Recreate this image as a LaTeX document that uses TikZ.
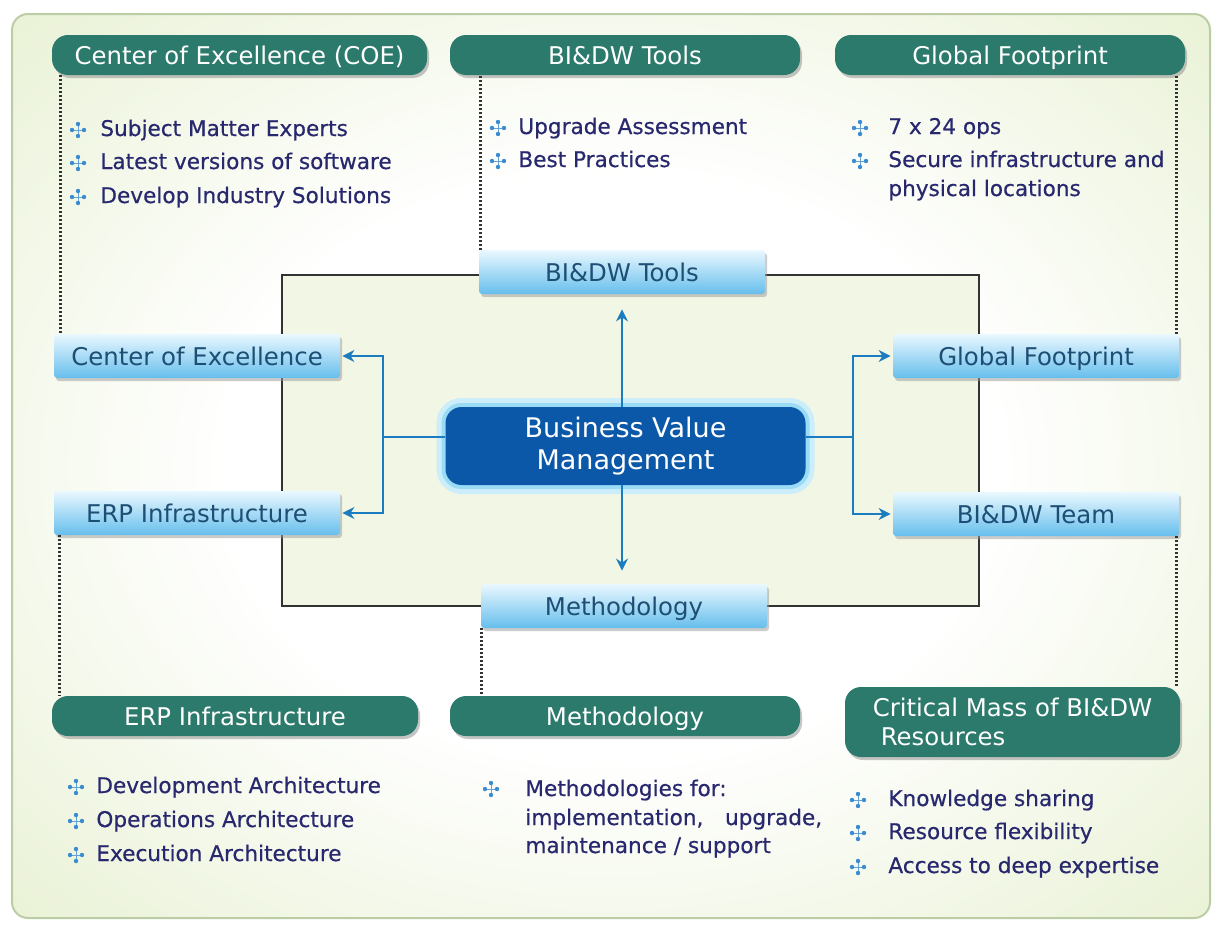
\documentclass[tikz,border=0pt]{standalone}
\usepackage{fontspec}
\setmainfont{DejaVu Sans}
\newfontfamily\bodyfont{DejaVu Sans}[FakeBold=0.5]
\usetikzlibrary{positioning,shadows,arrows.meta}

\definecolor{headgreen}{HTML}{2B7A6C}
\definecolor{boxtop}{HTML}{EAF8FF}
\definecolor{boxbot}{HTML}{66BEEC}
\definecolor{boxtext}{HTML}{1D4E74}
\definecolor{vmblue}{HTML}{0B58A8}
\definecolor{glowblue}{HTML}{9ADCF5}
\definecolor{arrblue}{HTML}{1B7CC0}
\definecolor{navytext}{HTML}{28286E}
\definecolor{bulblue}{HTML}{3A8BD0}
\definecolor{bggrn}{HTML}{E0ECC4}
\definecolor{panelgrn}{HTML}{F2F7E5}
\definecolor{framegrn}{HTML}{BCCDA6}

\pgfdeclareradialshading{bgglow}{\pgfpoint{0bp}{0bp}}{color(0bp)=(white); color(16bp)=(white); color(44bp)=(bggrn); color(60bp)=(bggrn)}

\tikzset{
  head/.style={fill=headgreen, text=white, rounded corners=8pt, inner sep=0pt,
    font=\fontsize{12.2}{14.5}\selectfont, minimum height=20pt,
    text height=10pt, text depth=1pt,
    drop shadow={shadow xshift=1pt, shadow yshift=-1.5pt, fill=black!45}},
  blubox/.style={top color=boxtop, bottom color=boxbot, text=boxtext, rounded corners=1.5pt,
    minimum width=143pt, minimum height=22pt, inner sep=0pt,
    text height=10pt, text depth=1pt, font=\fontsize{12.2}{14.5}\selectfont,
    drop shadow={shadow xshift=1pt, shadow yshift=-1.5pt, fill=black!40}},
  vm/.style={fill=vmblue, text=white, rounded corners=8pt, align=center,
    minimum width=180pt, minimum height=39pt, font=\fontsize{13.5}{16}\selectfont,
    preaction={draw=glowblue!50, line width=9pt},
    preaction={draw=glowblue, line width=4pt}},
  itm/.style={anchor=west, text=navytext, inner sep=0pt, text height=8pt, text depth=2pt,
    font=\bodyfont\fontsize{10.8}{13}\selectfont},
  dots/.style={dash pattern=on 1pt off 1pt, line width=1.2pt, black!80},
  arr/.style={arrblue, line width=1pt, -{Stealth[length=6pt,width=6pt]}},
  bul/.pic={
    \draw[bulblue!80, line width=0.5pt] (-6,0) -- (6,0) (0,-6) -- (0,6);
    \fill[bulblue] (-6,0) circle (1.1pt) (6,0) circle (1.1pt)
      (0,-6) circle (1.1pt) (0,6) circle (1.1pt);}
}

\begin{document}
\begin{tikzpicture}[x=0.5pt,y=-0.5pt]
\useasboundingbox (0,0) rectangle (1225,926);
% background
\fill[white] (0,0) rectangle (1225,926);
\shade[shading=bgglow, rounded corners=8pt] (12,14) rectangle (1210,918);
\draw[framegrn, line width=1pt, rounded corners=8pt] (12,14) rectangle (1210,918);
\draw[black!80, line width=0.6pt, fill=panelgrn] (282,275) rectangle (979,606);

% headers
\node[head, minimum width=187.5pt] (hcoe) at (239.5,55) {Center of Excellence (COE)};
\node[head, minimum width=175pt] (htools) at (625,55) {BI\&DW Tools};
\node[head, minimum width=175pt] (hglob) at (1010,55) {Global Footprint};
\node[head, minimum width=183pt] (herp) at (235,716) {ERP Infrastructure};
\node[head, minimum width=175pt] (hmeth) at (625,716) {Methodology};
\node[head, minimum width=167.5pt, minimum height=35pt, text height=, text depth=, align=left] (hcrit) at (1012.5,722)
  {Critical Mass of BI\&DW\\\hspace{4pt}Resources};

% boxes
\node[blubox] (btools) at (622,272) {BI\&DW Tools};
\node[blubox] (bcoe) at (197,356) {Center of Excellence};
\node[blubox] (berp) at (197,513) {ERP Infrastructure};
\node[blubox] (bglob) at (1036,356) {Global Footprint};
\node[blubox] (bteam) at (1036,514) {BI\&DW Team};
\node[blubox] (bmeth) at (624,606) {Methodology};
\node[vm] (bvm) at (625.5,446) {Business Value\\Management};

% dotted links
\draw[dots] ([xshift=4.5pt]hcoe.south west) -- ([xshift=4.5pt]hcoe.south west |- bcoe.north);
\draw[dots] ([xshift=1pt]btools.north west) -- ([xshift=1pt]btools.north west |- htools.south);
\draw[dots] ([xshift=-1.5pt]bglob.north east) -- ([xshift=-1.5pt]bglob.north east |- hglob.south);
\draw[dots] ([xshift=3pt]berp.south west) -- ([xshift=3pt]berp.south west |- herp.north);
\draw[dots] ([xshift=0.5pt]bmeth.south west) -- ([xshift=0.5pt]bmeth.south west |- hmeth.north);
\draw[dots] ([xshift=-1.5pt]bteam.south east) -- ([xshift=-1.5pt]bteam.south east |- hcrit.north);

% arrows
\coordinate (lj) at (383,437);
\coordinate (rj) at (853,437);
\draw[arr] (btools.south |- bvm.north) -- ([yshift=-7.5pt]btools.south);
\draw[arr] (btools.south |- bvm.south) -- ([yshift=6.5pt]btools.south |- bmeth.north);
\draw[arrblue, line width=1pt] (bvm.west |- lj) -- (lj);
\draw[arrblue, line width=1pt] (bvm.east |- rj) -- (rj);
\draw[arr] (lj) |- ([xshift=1pt]bcoe.east);
\draw[arr] (lj) |- ([xshift=1pt]berp.east);
\draw[arr] (rj) |- ([xshift=-1pt]bglob.west);
\draw[arr] (rj) |- ([xshift=-1pt]bteam.west);

% lists
\pic at (78,130) {bul};
\pic at (78,163) {bul};
\pic at (78,197) {bul};
\node[itm] (coe1) at (100,130) {Subject Matter Experts};
\node[itm] (coe2) at (100,163) {Latest versions of software};
\node[itm] (coe3) at (100,197) {Develop Industry Solutions};

\pic at (498,128) {bul};
\pic at (498,161) {bul};
\node[itm] (tool1) at (518,128) {Upgrade Assessment};
\node[itm] (tool2) at (518,161) {Best Practices};

\pic at (860,128) {bul};
\pic at (860,161) {bul};
\node[itm] (glob1) at (888,128) {7 x 24 ops};
\node[itm] (glob2) at (888,161) {Secure infrastructure and};
\node[itm] (glob3) at (888,190) {physical locations};

\pic at (76,787) {bul};
\pic at (76,821) {bul};
\pic at (76,855) {bul};
\node[itm] (erp1) at (96,787) {Development Architecture};
\node[itm] (erp2) at (96,821) {Operations Architecture};
\node[itm] (erp3) at (96,855) {Execution Architecture};

\pic at (491,789) {bul};
\node[itm] (meth1) at (525,790) {Methodologies for:};
\node[itm] (meth2) at (525,819) {implementation,\hspace{1em}upgrade,};
\node[itm] (meth3) at (525,847) {maintenance / support};

\pic at (858,800) {bul};
\pic at (858,833) {bul};
\pic at (858,867) {bul};
\node[itm] (crit1) at (888,800) {Knowledge sharing};
\node[itm] (crit2) at (888,833) {Resource flexibility};
\node[itm] (crit3) at (888,867) {Access to deep expertise};
\end{tikzpicture}
\end{document}
